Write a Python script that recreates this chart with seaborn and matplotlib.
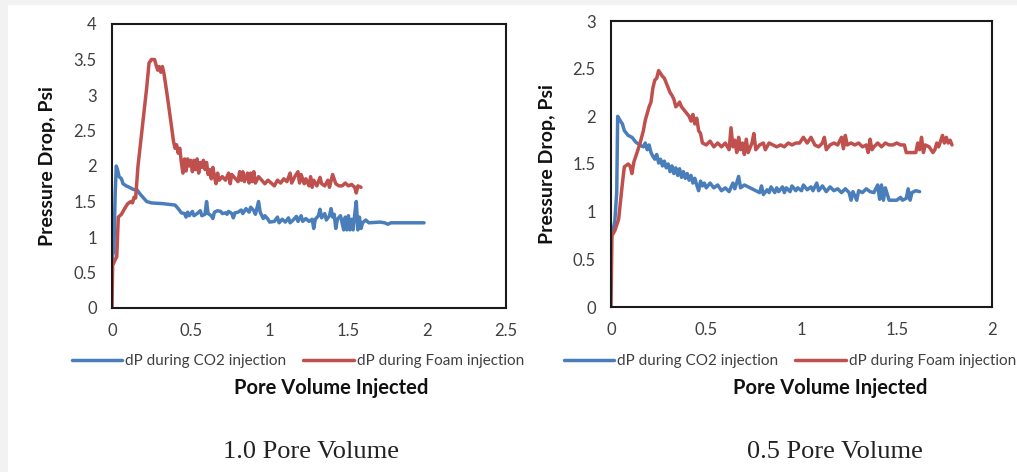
import matplotlib
matplotlib.use("Agg")
import matplotlib.pyplot as plt
from matplotlib.patches import Rectangle
from matplotlib.ticker import FuncFormatter
import numpy as np
import pandas as pd
import seaborn as sns

# %% data (pore volume, dP in psi)

labels = ['dP during CO2 injection', 'dP during Foam injection']
captions = ['1.0 Pore Volume', '0.5 Pore Volume']

co2_1pv = [
    (0.00, 0.65), (0.005, 0.75), (0.012, 0.80), (0.02, 1.60), (0.027, 2.00), (0.035, 1.95),
    (0.045, 1.85), (0.06, 1.82), (0.07, 1.75), (0.09, 1.72), (0.11, 1.70), (0.135, 1.67),
    (0.16, 1.66), (0.18, 1.60), (0.20, 1.55), (0.22, 1.50), (0.25, 1.48), (0.32, 1.47),
    (0.40, 1.45), (0.42, 1.40), (0.44, 1.34), (0.46, 1.33), (0.47, 1.28), (0.48, 1.35),
    (0.49, 1.30), (0.51, 1.36), (0.52, 1.30), (0.54, 1.33), (0.56, 1.37), (0.57, 1.30),
    (0.59, 1.32), (0.60, 1.50), (0.61, 1.33), (0.63, 1.30), (0.64, 1.26), (0.65, 1.35),
    (0.67, 1.37), (0.69, 1.36), (0.70, 1.33), (0.72, 1.34), (0.73, 1.32), (0.74, 1.36),
    (0.76, 1.33), (0.77, 1.27), (0.78, 1.34), (0.80, 1.35), (0.82, 1.38), (0.83, 1.33),
    (0.85, 1.40), (0.87, 1.35), (0.88, 1.42), (0.90, 1.37), (0.91, 1.32), (0.93, 1.50),
    (0.94, 1.35), (0.96, 1.26), (0.97, 1.30), (0.99, 1.25), (1.00, 1.21), (1.03, 1.22),
    (1.05, 1.28), (1.06, 1.20), (1.08, 1.25), (1.10, 1.21), (1.12, 1.27), (1.13, 1.20),
    (1.15, 1.24), (1.17, 1.29), (1.18, 1.22), (1.20, 1.30), (1.21, 1.22), (1.23, 1.26),
    (1.25, 1.22), (1.27, 1.25), (1.28, 1.12), (1.29, 1.25), (1.31, 1.30), (1.32, 1.39),
    (1.33, 1.27), (1.35, 1.33), (1.36, 1.24), (1.38, 1.30), (1.39, 1.40), (1.40, 1.28),
    (1.41, 1.32), (1.42, 1.12), (1.43, 1.25), (1.45, 1.30), (1.47, 1.10), (1.48, 1.28),
    (1.49, 1.10), (1.50, 1.30), (1.51, 1.10), (1.52, 1.25), (1.53, 1.10), (1.54, 1.32),
    (1.55, 1.50), (1.56, 1.10), (1.57, 1.28), (1.58, 1.12), (1.59, 1.20), (1.61, 1.24),
    (1.63, 1.20), (1.70, 1.21), (1.73, 1.20), (1.75, 1.18), (1.77, 1.20), (1.85, 1.20),
    (1.98, 1.20),
]

foam_1pv = [
    (0.00, 0.00), (0.004, 0.60), (0.02, 0.68), (0.03, 0.72), (0.04, 1.28), (0.06, 1.32),
    (0.08, 1.40), (0.10, 1.47), (0.12, 1.50), (0.13, 1.48), (0.14, 1.56), (0.15, 1.55),
    (0.165, 2.00), (0.19, 2.50), (0.22, 3.10), (0.235, 3.45), (0.25, 3.50), (0.27, 3.50),
    (0.28, 3.42), (0.29, 3.35), (0.30, 3.40), (0.31, 3.32), (0.32, 3.40), (0.33, 3.30),
    (0.35, 3.00), (0.375, 2.60), (0.39, 2.35), (0.40, 2.25), (0.41, 2.30), (0.42, 2.18),
    (0.43, 2.25), (0.44, 2.05), (0.45, 1.90), (0.46, 2.10), (0.47, 1.93), (0.48, 2.10),
    (0.49, 2.00), (0.50, 2.08), (0.51, 1.92), (0.52, 2.08), (0.53, 1.95), (0.54, 2.10),
    (0.55, 1.90), (0.56, 2.05), (0.57, 1.98), (0.58, 2.08), (0.59, 1.95), (0.60, 2.05),
    (0.61, 1.88), (0.62, 1.95), (0.63, 1.82), (0.64, 1.98), (0.65, 1.85), (0.66, 1.75),
    (0.67, 1.90), (0.68, 1.80), (0.70, 1.85), (0.72, 1.80), (0.74, 1.90), (0.75, 1.75),
    (0.76, 1.88), (0.78, 1.83), (0.80, 1.78), (0.81, 1.92), (0.82, 1.80), (0.83, 1.92),
    (0.84, 1.78), (0.86, 1.90), (0.87, 1.76), (0.88, 1.90), (0.89, 1.78), (0.90, 1.92),
    (0.91, 1.76), (0.93, 1.85), (0.95, 1.80), (0.97, 1.75), (0.99, 1.80), (1.01, 1.76),
    (1.03, 1.72), (1.05, 1.80), (1.07, 1.76), (1.09, 1.82), (1.11, 1.78), (1.13, 1.90),
    (1.14, 1.76), (1.16, 1.85), (1.18, 1.92), (1.19, 1.76), (1.20, 1.88), (1.22, 1.75),
    (1.23, 1.82), (1.25, 1.72), (1.26, 1.85), (1.27, 1.70), (1.28, 1.80), (1.30, 1.72),
    (1.32, 1.84), (1.33, 1.75), (1.35, 1.72), (1.37, 1.80), (1.38, 1.70), (1.40, 1.88),
    (1.42, 1.75), (1.44, 1.72), (1.46, 1.72), (1.48, 1.76), (1.50, 1.72), (1.52, 1.74),
    (1.54, 1.70), (1.55, 1.62), (1.56, 1.72), (1.58, 1.70),
]

co2_05pv = [
    (0.00, 0.70), (0.01, 0.80), (0.02, 0.90), (0.03, 1.20), (0.035, 2.00), (0.05, 1.95),
    (0.06, 1.92), (0.07, 1.85), (0.09, 1.80), (0.11, 1.78), (0.13, 1.73), (0.15, 1.70),
    (0.17, 1.68), (0.18, 1.72), (0.19, 1.65), (0.20, 1.70), (0.21, 1.62), (0.22, 1.58),
    (0.23, 1.55), (0.24, 1.60), (0.25, 1.51), (0.26, 1.55), (0.27, 1.48), (0.28, 1.53),
    (0.29, 1.46), (0.30, 1.50), (0.31, 1.42), (0.32, 1.48), (0.33, 1.40), (0.34, 1.46),
    (0.35, 1.38), (0.36, 1.45), (0.37, 1.36), (0.38, 1.42), (0.39, 1.35), (0.40, 1.40),
    (0.41, 1.33), (0.42, 1.38), (0.43, 1.30), (0.44, 1.35), (0.45, 1.28), (0.46, 1.22),
    (0.47, 1.32), (0.48, 1.27), (0.49, 1.30), (0.50, 1.25), (0.52, 1.30), (0.54, 1.25),
    (0.56, 1.28), (0.58, 1.22), (0.60, 1.25), (0.62, 1.21), (0.64, 1.30), (0.65, 1.24),
    (0.67, 1.37), (0.68, 1.25), (0.70, 1.28), (0.72, 1.26), (0.74, 1.24), (0.76, 1.22),
    (0.78, 1.20), (0.79, 1.27), (0.80, 1.18), (0.82, 1.23), (0.83, 1.20), (0.84, 1.26),
    (0.86, 1.20), (0.87, 1.25), (0.88, 1.21), (0.90, 1.26), (0.91, 1.20), (0.92, 1.25),
    (0.94, 1.21), (0.95, 1.27), (0.97, 1.22), (0.98, 1.25), (1.00, 1.22), (1.01, 1.28),
    (1.03, 1.23), (1.05, 1.26), (1.06, 1.22), (1.08, 1.30), (1.09, 1.22), (1.11, 1.27),
    (1.13, 1.21), (1.15, 1.26), (1.17, 1.22), (1.19, 1.24), (1.21, 1.20), (1.23, 1.24),
    (1.25, 1.20), (1.26, 1.12), (1.27, 1.21), (1.29, 1.12), (1.30, 1.22), (1.32, 1.20),
    (1.34, 1.24), (1.36, 1.21), (1.38, 1.20), (1.40, 1.28), (1.41, 1.13), (1.42, 1.28),
    (1.43, 1.12), (1.44, 1.25), (1.46, 1.12), (1.50, 1.12), (1.52, 1.15), (1.53, 1.12),
    (1.55, 1.14), (1.56, 1.24), (1.57, 1.12), (1.58, 1.20), (1.60, 1.22), (1.62, 1.21),
]

foam_05pv = [
    (0.00, 0.00), (0.005, 0.75), (0.02, 0.80), (0.04, 0.92), (0.06, 1.30), (0.07, 1.47),
    (0.09, 1.50), (0.10, 1.48), (0.11, 1.40), (0.12, 1.52), (0.13, 1.58), (0.15, 1.70),
    (0.17, 1.85), (0.18, 1.96), (0.20, 2.10), (0.21, 2.15), (0.22, 2.30), (0.23, 2.38),
    (0.24, 2.40), (0.25, 2.48), (0.26, 2.45), (0.27, 2.42), (0.28, 2.40), (0.29, 2.35),
    (0.30, 2.30), (0.31, 2.25), (0.32, 2.22), (0.33, 2.18), (0.34, 2.10), (0.35, 2.12),
    (0.36, 2.15), (0.37, 2.10), (0.39, 2.05), (0.41, 2.00), (0.42, 1.95), (0.43, 2.02),
    (0.44, 1.92), (0.45, 1.98), (0.46, 1.85), (0.47, 1.82), (0.48, 1.72), (0.50, 1.70),
    (0.52, 1.74), (0.54, 1.68), (0.56, 1.72), (0.58, 1.68), (0.60, 1.72), (0.62, 1.65),
    (0.63, 1.88), (0.64, 1.68), (0.65, 1.75), (0.66, 1.62), (0.67, 1.78), (0.68, 1.65),
    (0.69, 1.72), (0.70, 1.60), (0.71, 1.76), (0.72, 1.62), (0.74, 1.72), (0.75, 1.82),
    (0.76, 1.65), (0.78, 1.70), (0.80, 1.72), (0.81, 1.65), (0.83, 1.72), (0.85, 1.70),
    (0.87, 1.68), (0.89, 1.70), (0.91, 1.68), (0.93, 1.72), (0.95, 1.70), (0.97, 1.72),
    (0.99, 1.72), (1.01, 1.78), (1.03, 1.72), (1.05, 1.78), (1.07, 1.70), (1.09, 1.68),
    (1.11, 1.72), (1.12, 1.78), (1.13, 1.65), (1.15, 1.70), (1.17, 1.72), (1.19, 1.70),
    (1.21, 1.78), (1.22, 1.66), (1.23, 1.80), (1.24, 1.70), (1.26, 1.72), (1.28, 1.70),
    (1.30, 1.72), (1.32, 1.68), (1.34, 1.70), (1.35, 1.62), (1.36, 1.76), (1.37, 1.65),
    (1.38, 1.68), (1.40, 1.72), (1.42, 1.68), (1.44, 1.72), (1.46, 1.70), (1.48, 1.70),
    (1.50, 1.72), (1.52, 1.70), (1.54, 1.70), (1.55, 1.62), (1.58, 1.62), (1.60, 1.62),
    (1.61, 1.72), (1.62, 1.65), (1.63, 1.78), (1.64, 1.62), (1.65, 1.70), (1.67, 1.68),
    (1.69, 1.62), (1.70, 1.65), (1.71, 1.72), (1.72, 1.68), (1.74, 1.80), (1.75, 1.72),
    (1.76, 1.78), (1.77, 1.72), (1.78, 1.75), (1.79, 1.70),
]

x_max = [2.5, 2.0]
y_max = [4.0, 3.0]

# %% figure

sns.set_theme(style='white')
plt.rcParams['font.family'] = ['Lato', 'DejaVu Sans']

W, H = 1017, 472
fig = plt.figure(figsize=(W / 100, H / 100), dpi=100, facecolor='#f2f2f2')
fig.patches.append(Rectangle((8 / W, 0), 1, 1 - 5 / H, transform=fig.transFigure,
                             facecolor='white', edgecolor='none', zorder=-1))

# cajas de los ejes en pixeles: izq, arriba, der, abajo
boxes = [(112, 24, 506, 308), (611, 21, 992, 307)]
xlabel_x = [331, 830]
ylabel_x = [56, 556]
legend_x = [298, 790]
caption_x = [311, 835]
paleta = {labels[0]: '#4a7ebb', labels[1]: '#c0504d'}

for i, (co2, foam) in enumerate([(co2_1pv, foam_1pv), (co2_05pv, foam_05pv)]):
    l, t, r, b = boxes[i]
    w_ax, h_ax = r - l, b - t
    ax = fig.add_axes([l / W, 1 - b / H, w_ax / W, h_ax / H])

    df = pd.concat([
        pd.DataFrame(co2, columns=['pv', 'dp']).assign(serie=labels[0]),
        pd.DataFrame(foam, columns=['pv', 'dp']).assign(serie=labels[1]),
    ])
    sns.lineplot(data=df, x='pv', y='dp', hue='serie', palette=paleta, sort=False,
                 estimator=None, linewidth=2.5, ax=ax)

    ax.set_xlim(0, x_max[i])
    ax.set_ylim(0, y_max[i])
    ax.set_xticks(np.arange(0, x_max[i] + 0.01, 0.5))
    ax.set_yticks(np.arange(0, y_max[i] + 0.01, 0.5))
    fmt = FuncFormatter(lambda v, p: '{:g}'.format(v))
    ax.xaxis.set_major_formatter(fmt)
    ax.yaxis.set_major_formatter(fmt)
    ax.tick_params(length=0, labelsize=12, colors='#404040', pad=11)

    for s in ax.spines.values():
        s.set_visible(True)
        s.set_color('#1a1a1a')
        s.set_linewidth(1.5)

    ax.set_xlabel('Pore Volume Injected', fontsize=14.5, fontweight='bold', color='#111111')
    ax.set_ylabel('Pressure Drop, Psi', fontsize=14, fontweight='bold', color='#111111')
    ax.xaxis.set_label_coords((xlabel_x[i] - l) / w_ax, (b - 378) / h_ax)
    ax.yaxis.set_label_coords((ylabel_x[i] - l) / w_ax, 0.5)

    sns.move_legend(ax, 'center', bbox_to_anchor=((legend_x[i] - l) / w_ax, (b - 361) / h_ax),
                    ncol=2, frameon=False, title=None, fontsize=11, handlelength=3.3,
                    columnspacing=1.1, handletextpad=0.2)
    for txt in ax.get_legend().get_texts():
        txt.set_color('#404040')

    fig.text(caption_x[i] / W, 1 - 452 / H, captions[i], ha='center', va='center',
             family='Liberation Serif', fontsize=19, color='#222222')

fig.savefig('out.png', dpi=100, facecolor=fig.get_facecolor())
